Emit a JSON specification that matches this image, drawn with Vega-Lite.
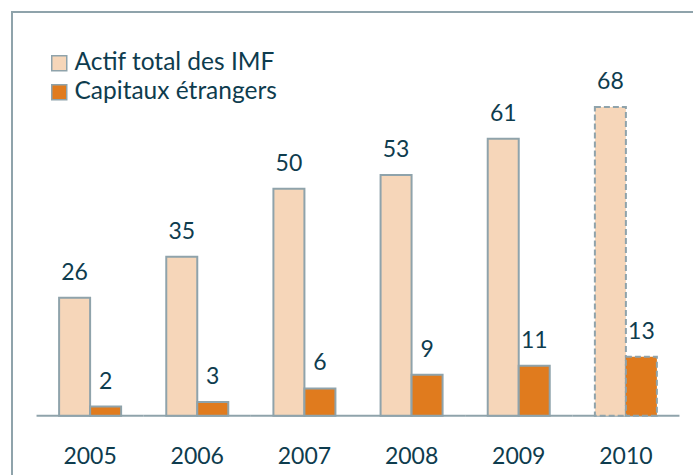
{
  "$schema": "https://vega.github.io/schema/vega-lite/v6.json",
  "width": 692,
  "height": 470,
  "autosize": {"type": "none"},
  "padding": {"left": 12, "top": 12, "right": 0, "bottom": 0},
  "background": "white",
  "config": {
    "view": {"stroke": "#8FA3AB", "strokeWidth": 2},
    "font": "Lato"
  },
  "data": {
    "values": [
      {"year": "2005", "serie": "Actif total des IMF", "value": 26},
      {"year": "2006", "serie": "Actif total des IMF", "value": 35},
      {"year": "2007", "serie": "Actif total des IMF", "value": 50},
      {"year": "2008", "serie": "Actif total des IMF", "value": 53},
      {"year": "2009", "serie": "Actif total des IMF", "value": 61},
      {"year": "2010", "serie": "Actif total des IMF", "value": 68},
      {"year": "2005", "serie": "Capitaux étrangers", "value": 2},
      {"year": "2006", "serie": "Capitaux étrangers", "value": 3},
      {"year": "2007", "serie": "Capitaux étrangers", "value": 6},
      {"year": "2008", "serie": "Capitaux étrangers", "value": 9},
      {"year": "2009", "serie": "Capitaux étrangers", "value": 11},
      {"year": "2010", "serie": "Capitaux étrangers", "value": 13}
    ]
  },
  "encoding": {
    "x": {
      "field": "year",
      "type": "nominal",
      "scale": {"paddingInner": 0, "paddingOuter": 0.229},
      "axis": {
        "orient": "bottom",
        "offset": -66.3,
        "domain": false,
        "ticks": false,
        "tickSize": 0,
        "labelPadding": 48,
        "labelBaseline": "alphabetic",
        "labelFontSize": 23,
        "labelFont": "Lato",
        "labelColor": "#0E3C4E",
        "labelAngle": 0,
        "title": null
      }
    }
  },
  "layer": [
    {
      "transform": [{"filter": "datum.serie === 'Actif total des IMF'"}],
      "mark": {"type": "bar", "width": {"band": 1}, "color": "#8FA3AB"},
      "encoding": {
        "y": {"datum": 0.22, "type": "quantitative", "scale": {"domain": [-14.6, 88.9], "nice": false, "zero": false}, "axis": null},
        "y2": {"datum": -0.22}
      }
    },
    {
      "mark": {"type": "bar", "stroke": "#8FA3AB", "strokeWidth": 2},
      "encoding": {
        "xOffset": {"field": "serie", "type": "nominal", "scale": {"paddingInner": 0, "paddingOuter": 0.728}},
        "y": {"field": "value", "type": "quantitative", "axis": null},
        "color": {
          "field": "serie",
          "type": "nominal",
          "scale": {"range": ["#F6D6B9", "#E07B1E"]},
          "legend": {
            "title": null,
            "orient": "none",
            "legendX": 35,
            "legendY": 39,
            "symbolType": "square",
            "symbolSize": 225,
            "symbolStrokeColor": "#8FA3AB",
            "symbolStrokeWidth": 1.5,
            "labelFontSize": 24.5,
            "labelFont": "Lato",
            "labelColor": "#0E3C4E",
            "labelOffset": 3,
            "labelLimit": 500,
            "rowPadding": 4,
            "padding": 0
          }
        },
        "strokeDash": {
          "condition": {"test": "datum.year === '2010'", "value": [6, 3]},
          "value": [1, 0]
        }
      }
    },
    {
      "mark": {"type": "text", "dy": -18, "baseline": "alphabetic", "fontSize": 23, "font": "Lato", "color": "#0E3C4E"},
      "encoding": {
        "xOffset": {"field": "serie", "type": "nominal"},
        "y": {"field": "value", "type": "quantitative"},
        "text": {"field": "value", "type": "quantitative"}
      }
    }
  ]
}
